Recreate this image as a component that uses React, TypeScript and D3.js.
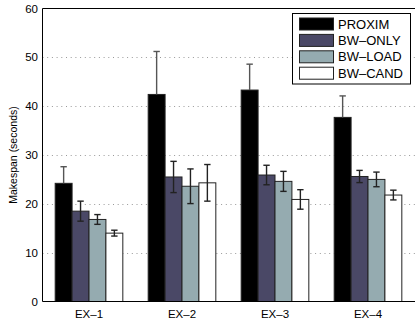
import React from "react";
import * as d3 from "d3";

const categories = ["EX–1", "EX–2", "EX–3", "EX–4"];
const seriesNames = ["PROXIM", "BW–ONLY", "BW–LOAD", "BW–CAND"];
const proxim = [24.2, 42.4, 43.3, 37.7];
const bwOnly = [18.5, 25.5, 25.9, 25.6];
const bwLoad = [16.8, 23.6, 24.6, 25.0];
const bwCand = [14.0, 24.3, 20.9, 21.8];
const proximErr = [3.4, 8.8, 5.3, 4.4];
const bwOnlyErr = [2.05, 3.2, 2.0, 1.25];
const bwLoadErr = [1.0, 3.55, 2.05, 1.5];
const bwCandErr = [0.6, 3.75, 2.0, 1.0];
const yTicks = [0, 10, 20, 30, 40, 50, 60];
const gridTicks = [10, 20, 30, 40, 50];
const colors = ["#000000", "#4a4866", "#95abb0", "#ffffff"];

const values = [proxim, bwOnly, bwLoad, bwCand];
const errs = [proximErr, bwOnlyErr, bwLoadErr, bwCandErr];

export default function App() {
  const W = 415;
  const H = 326;
  const left = 42.5;
  const right = 414.5;
  const top = 8.5;
  const bottom = 301.5;
  const x = d3.scaleLinear().domain([0.5, 4.5]).range([left, right]);
  const y = d3.scaleLinear().domain([0, 60]).range([bottom, top]);
  const groupWidth = 4 / (4 + 1.5);
  const barW = groupWidth / 4;
  const font = "Liberation Sans, Arial, Helvetica, sans-serif";

  return (
    <svg
      width={W}
      height={H}
      style={{ position: "absolute", left: 0, top: 0, display: "block", background: "#fff" }}
      fontFamily={font}
    >
      <rect x={0} y={0} width={W} height={H} fill="#fff" />
      {gridTicks.map((t) => (
        <line
          key={"g" + t}
          x1={left}
          x2={W}
          y1={Math.round(y(t)) + 0.5}
          y2={Math.round(y(t)) + 0.5}
          stroke="#999"
          strokeWidth={1}
          strokeDasharray="1,3.7"
        />
      ))}
      {categories.map((c, i) =>
        values.map((s, j) => {
          const cx = i + 1;
          const x0 = cx - groupWidth / 2 + j * barW;
          const xa = x(x0);
          const xb = x(x0 + barW);
          const v = s[i];
          return (
            <rect
              key={c + j}
              x={xa}
              y={y(v)}
              width={xb - xa}
              height={y(0) - y(v)}
              fill={colors[j]}
              stroke="#222"
              strokeWidth={1}
            />
          );
        })
      )}
      {categories.map((c, i) =>
        values.map((s, j) => {
          const cx = i + 1;
          const xm = x(cx - groupWidth / 2 + (j + 0.5) * barW);
          const v = s[i];
          const e = errs[j][i];
          if (j === 0) {
            return (
              <g key={"e" + c + j} stroke="#555" strokeWidth={1.4}>
                <line x1={xm} x2={xm} y1={y(v + e)} y2={y(v)} />
                <line x1={xm - 3.2} x2={xm + 3.2} y1={y(v + e)} y2={y(v + e)} />
              </g>
            );
          }
          return (
            <g key={"e" + c + j} stroke="#222" strokeWidth={1.4}>
              <line x1={xm} x2={xm} y1={y(v + e)} y2={y(v - e)} />
              <line x1={xm - 3.2} x2={xm + 3.2} y1={y(v + e)} y2={y(v + e)} />
              <line x1={xm - 3.2} x2={xm + 3.2} y1={y(v - e)} y2={y(v - e)} />
            </g>
          );
        })
      )}
      <line x1={left} x2={left} y1={top} y2={bottom} stroke="#000" strokeWidth={1} />
      <line x1={left} x2={W} y1={top} y2={top} stroke="#000" strokeWidth={1} />
      <line x1={left} x2={W} y1={bottom} y2={bottom} stroke="#000" strokeWidth={1} />
      {yTicks.map((t) => (
        <text
          key={"t" + t}
          x={38}
          y={y(t)}
          dy="0.35em"
          textAnchor="end"
          fontSize={11.5}
          fill="#000"
        >
          {t}
        </text>
      ))}
      {categories.map((c, i) => (
        <text key={"c" + c} x={x(i + 1)} y={318} textAnchor="middle" fontSize={11.5} fill="#000">
          {c}
        </text>
      ))}
      <text
        transform={`translate(17,${(top + bottom) / 2}) rotate(-90)`}
        textAnchor="middle"
        fontSize={10.5}
        fill="#000"
      >
        Makespan (seconds)
      </text>
      <g>
        <rect x={292.5} y={13.5} width={118} height={70.5} fill="#fff" stroke="#000" strokeWidth={1} />
        {seriesNames.map((n, j) => {
          const cy = 24 + j * 16.4;
          return (
            <g key={"l" + n}>
              <rect x={299.5} y={cy - 6} width={34} height={12} fill={colors[j]} stroke="#222" strokeWidth={1} />
              <text x={338} y={cy} dy="0.36em" fontSize={13} fill="#000">
                {n}
              </text>
            </g>
          );
        })}
      </g>
    </svg>
  );
}
